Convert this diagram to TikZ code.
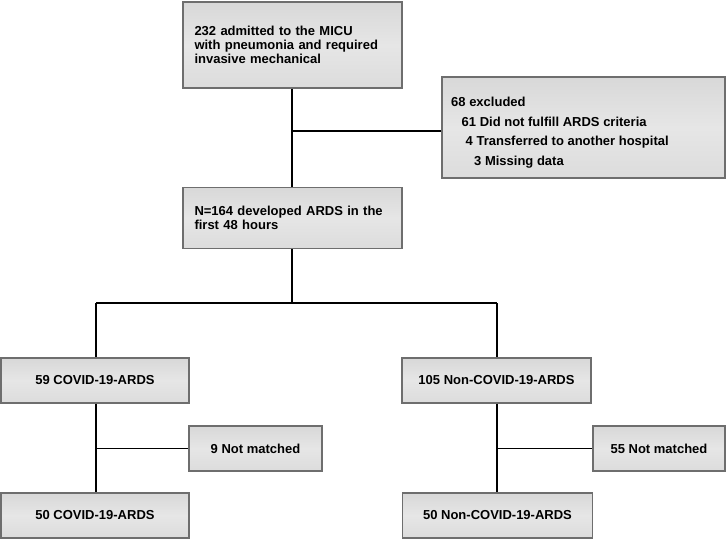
\documentclass[tikz,border=0pt]{standalone}
\usepackage{fontspec}
\setmainfont{Liberation Sans}
\begin{document}
\begin{tikzpicture}[x=1pt,y=-1pt,
  box/.style={draw=boxedge, line width=1.2pt, top color=boxtop, bottom color=boxbot, middle color=boxmid,
    inner sep=0pt, font=\bfseries\fontsize{13}{13.8}\selectfont},
  conn/.style={draw=black, line width=1.1pt}]
\definecolor{boxedge}{HTML}{6E6E6E}
\definecolor{boxtop}{HTML}{D8D8D8}
\definecolor{boxmid}{HTML}{E6E6E6}
\definecolor{boxbot}{HTML}{DCDCDC}
\useasboundingbox (0,0) rectangle (727,540);
\fill[white] (0,0) rectangle (727,540);

\node[box, minimum width=219pt, minimum height=86pt, text width=196pt, align=left] (adm) at (292.5,45)
  {232 admitted to the MICU\\with pneumonia and required\\invasive mechanical};
\node[box, minimum width=283pt, minimum height=101pt] (excl) at (583.5,127.5) {};
\node[anchor=base west, inner sep=0pt, align=left, font=\bfseries\fontsize{13}{19.4}\selectfont] (excltext) at (451,165)
  {68 excluded\\\hspace*{10.5pt}61 Did not fulfill ARDS criteria\\\hspace*{14.5pt}4 Transferred to another hospital\\\hspace*{23pt}3 Missing data};
\node[box, minimum width=219pt, minimum height=61pt, text width=196pt, align=left] (ards) at (292.5,218)
  {N=164 developed ARDS in the\\first 48 hours};

\node[box, minimum width=188pt, minimum height=45pt] (cov) at (95,380.5) {59 COVID-19-ARDS};
\node[box, minimum width=133pt, minimum height=45pt] (cnm) at (255.5,448.5) {9 Not matched};
\node[box, minimum width=188pt, minimum height=45pt] (covm) at (95,515.5) {50 COVID-19-ARDS};

\node[box, minimum width=189pt, minimum height=45pt] (non) at (496.5,380.5) {105 Non-COVID-19-ARDS};
\node[box, minimum width=132pt, minimum height=45pt] (nnm) at (659,448.5) {55 Not matched};
\node[box, minimum width=190pt, minimum height=45pt] (nonm) at (497.5,515.5) {50 Non-COVID-19-ARDS};

\coordinate (j1) at (292,131);
\coordinate (j2) at (292,303);
\coordinate (jl) at (96,303);
\coordinate (jr) at (497,303);
\coordinate (jcl) at (96,448.5);
\coordinate (jcr) at (497,448.5);

\draw[conn] (adm.south -| j1) -- (ards.north -| j1);
\draw[conn] (j1) -- (excl.west |- j1);
\draw[conn] (ards.south -| j2) -- (j2);
\draw[conn] (jl) -- (jr);
\draw[conn] (jl) -- (cov.north -| jl);
\draw[conn] (jr) -- (non.north -| jr);
\draw[conn] (cov.south -| jcl) -- (covm.north -| jcl);
\draw[conn] (jcl) -- (cnm.west);
\draw[conn] (non.south -| jcr) -- (nonm.north -| jcr);
\draw[conn] (jcr) -- (nnm.west);
\end{tikzpicture}
\end{document}
